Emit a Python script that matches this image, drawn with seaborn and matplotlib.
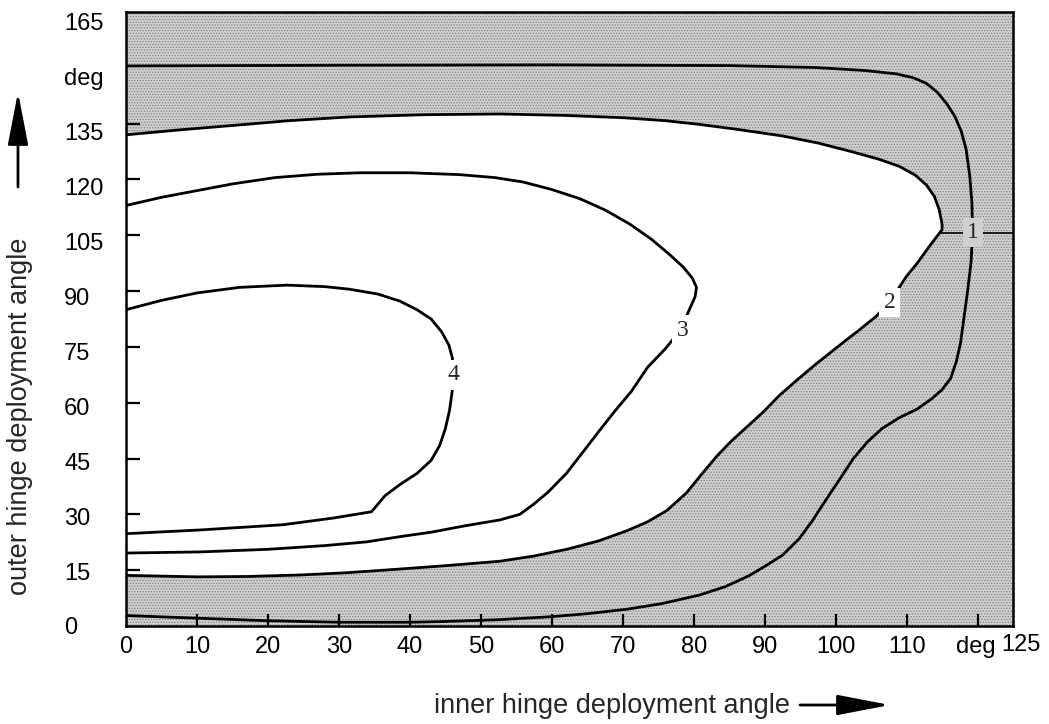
import numpy as np
import pandas as pd
import seaborn as sns
from matplotlib import pyplot as plt
from matplotlib import transforms
from matplotlib.patches import Rectangle

# contour lines (inner hinge angle, outer hinge angle), deg
c1_x = [0, 30, 60, 85, 97, 104, 108.5, 111, 112.8, 114.3, 115.6, 116.8, 117.7, 118.4, 118.9, 119.2, 119.3,
        119.1, 118.6, 118.1, 117.6, 117.0, 116.2, 115.0, 113.5, 111.5, 109.0, 106.5, 104.5, 102.5, 100.6,
        98.5, 96.8, 94.9, 92.5, 90.0, 87.9, 84.5, 80.8, 75.5, 70.6, 65, 60, 52.7, 45, 40, 30, 20, 10, 0]
c1_y = [150.5, 150.7, 150.8, 150.6, 150.1, 149.3, 148.4, 147.3, 145.8, 143.5, 140.5, 137, 133, 128, 121, 114, 106,
        98, 90, 83, 76, 71, 66.5, 63.5, 61, 58.3, 56, 53, 49.5, 45, 39.5,
        33.5, 28.5, 23.5, 19, 16, 13.6, 10.6, 8.3, 6.0, 4.5, 3.3, 2.5, 1.7, 1.2, 1.0, 1.0, 1.4, 2.1, 2.8]

c2_x = [0, 8, 15, 23, 31.5, 42, 52.7, 62, 70, 76, 80.8, 86, 92.5, 97.5, 102, 106, 109, 111.2, 112.8, 113.9,
        114.6, 115, 115, 113.2, 111.5, 110, 107.6, 105.7, 103.3, 101, 97.3, 94.5, 92.1, 89.8, 87.5, 85.2,
        83.2, 81, 79, 76.2, 73.5, 70.6, 66.5, 62.1, 57.5, 52.7, 45, 38.6, 31, 24.5, 17, 10, 0]
c2_y = [132, 133.4, 134.5, 135.8, 136.8, 137.4, 137.6, 137.2, 136.6, 135.8, 134.8, 133.5, 131.7, 129.8, 127.6,
        125.5, 123.5, 121.2, 118.5, 115.5, 111.9, 108, 106.5, 102, 97.5, 94, 87, 83.2, 79.5, 76.1, 70.5, 66,
        62, 57.5, 53.5, 49.5, 45.5, 40.5, 35.8, 31, 28, 25.6, 22.8, 20.6, 18.8, 17.4, 16.2, 15.3, 14.3, 13.7,
        13.3, 13.2, 13.6]

c3_x = [0, 5, 10, 15, 21, 27, 33, 40, 47, 52, 56, 60, 64, 67.5, 71, 74, 76.5, 78.5, 79.8, 80.4, 80.2, 79.5,
        78.7, 77.5, 76, 73.5, 71.2, 69, 66.8, 64.5, 62.1, 59.5, 57.5, 55.5, 52.7, 48, 43, 38.6, 33.9, 28,
        20, 10.4, 0]
c3_y = [113, 115.2, 117, 118.8, 120.5, 121.4, 121.8, 121.8, 121.3, 120.5, 119.3, 117.3, 114.8, 111.8, 108, 104,
        100, 96.5, 93.5, 91, 88.5, 85.5, 82, 78, 74.5, 69.5, 63, 58, 52.7, 47, 41.1, 36, 32.8, 30, 28.5, 27,
        25.2, 24, 22.6, 21.6, 20.6, 19.9, 19.6]

c4_x = [0, 5, 10, 16, 22.7, 28, 31.5, 35.5, 38.6, 41, 43, 44.5, 45.5, 46, 46.1, 46, 45.6, 45, 44.2, 43, 41,
        38.6, 36.5, 34.6, 29.2, 22.1, 10.4, 0]
c4_y = [85, 87.5, 89.5, 91, 91.6, 91.2, 90.5, 89.2, 87.3, 85, 82.5, 79, 75.5, 72, 67.5, 63.5, 58, 53, 48.5,
        44.5, 41, 38, 35, 30.7, 29, 27.2, 25.8, 24.8]

# horizontal marker through the tip of contour 2
guide_x = [114.9, 125]
guide_y = [105.7, 105.7]

label_text = ['1', '2', '3', '4']
label_x = [119.4, 107.6, 78.4, 46.1]
label_y = [105.7, 86.9, 79.5, 67.5]

x_ticks = [0, 10, 20, 30, 40, 50, 60, 70, 80, 90, 100, 110, 120, 125]
x_ticklabels = ['0', '10', '20', '30', '40', '50', '60', '70', '80', '90', '100', '110', 'deg', '125']
y_ticks = [0, 15, 30, 45, 60, 75, 90, 105, 120, 135, 150, 165]
y_ticklabels = ['0', '15', '30', '45', '60', '75', '90', '105', '120', '135', 'deg', '165']

stipple = '#d0d0d0'

sns.set_style('white')
plt.rcParams['font.family'] = ['Liberation Sans', 'DejaVu Sans']
plt.rcParams['hatch.linewidth'] = 0.6

df = pd.concat([
    pd.DataFrame({'inner': c1_x, 'outer': c1_y, 'level': 1}),
    pd.DataFrame({'inner': c2_x, 'outer': c2_y, 'level': 2}),
    pd.DataFrame({'inner': c3_x, 'outer': c3_y, 'level': 3}),
    pd.DataFrame({'inner': c4_x, 'outer': c4_y, 'level': 4}),
], ignore_index=True)

fig = plt.figure(figsize=(10.49, 7.24), dpi=100)
ax = fig.add_axes([0.1201, 0.1354, 0.8456, 0.848])
ax.set_axisbelow(False)

# stippled background, contour 2 interior left white
ax.add_patch(Rectangle((0, 0), 1, 1, transform=ax.transAxes, facecolor=stipple, edgecolor='#808080',
                       hatch='......', lw=0, zorder=0))
ax.fill(c2_x, c2_y, facecolor='white', edgecolor='none', zorder=1)

sns.lineplot(data=df, x='inner', y='outer', units='level', estimator=None, sort=False,
             color='black', lw=2.0, ax=ax, zorder=3)
ax.plot(guide_x, guide_y, color='black', lw=1.2, zorder=3)

for i, txt in enumerate(label_text):
    bg = stipple if txt == '1' else 'white'
    ax.text(label_x[i], label_y[i], txt, ha='center', va='center', fontsize=17,
            family=['Liberation Serif', 'DejaVu Serif'], zorder=5,
            bbox=dict(boxstyle='square,pad=0.18', facecolor=bg, edgecolor='none'))

ax.set_xlim(0, 125)
ax.set_ylim(0, 165)
ax.set_xlabel('')
ax.set_ylabel('')
ax.set_xticks(x_ticks)
ax.set_xticklabels(x_ticklabels, fontsize=17)
ax.set_yticks(y_ticks)
ax.set_yticklabels(y_ticklabels, fontsize=17)
ax.tick_params(axis='x', direction='in', length=8.6, width=1.6, pad=7, colors='black', bottom=True)
ax.tick_params(axis='y', direction='in', length=10, width=1.6, pad=44.6, colors='black', left=True)
for tick, v in zip(ax.xaxis.get_major_ticks(), x_ticks):
    if v in (0, 125):
        tick.tick1line.set_visible(False)
for tick, v in zip(ax.yaxis.get_major_ticks(), y_ticks):
    if v in (0, 150, 165):
        tick.tick1line.set_visible(False)
for lab, v in zip(ax.get_yticklabels(), y_ticks):
    lab.set_horizontalalignment('left')
    lab.set_transform(lab.get_transform() +
                      transforms.ScaledTranslation(0, -0.058 * v / 100, fig.dpi_scale_trans))
for lab, v in zip(ax.get_xticklabels(), x_ticks):
    if v == 125:
        lab.set_transform(lab.get_transform() + transforms.ScaledTranslation(0.08, 0.02, fig.dpi_scale_trans))
    if v == 120:
        lab.set_transform(lab.get_transform() + transforms.ScaledTranslation(-0.02, 0, fig.dpi_scale_trans))
for side in ['left', 'right', 'top', 'bottom']:
    ax.spines[side].set_color('black')
    ax.spines[side].set_linewidth(1.8)
    ax.spines[side].set_zorder(6)
ax.grid(False)

fig.text(0.019, 0.4254, 'outer hinge deployment angle', rotation=90, ha='center', va='center', fontsize=19.5)
fig.text(0.5834, 0.0249, 'inner hinge deployment angle', ha='center', va='center', fontsize=19.5)
ax.annotate('', xy=(18 / 1049, 1 - 92 / 724), xytext=(18 / 1049, 1 - 187 / 724), xycoords='figure fraction',
            arrowprops=dict(arrowstyle='-|>,head_length=1.3,head_width=0.25', mutation_scale=25,
                            lw=2, color='black', shrinkA=0, shrinkB=0))
ax.annotate('', xy=(890 / 1049, 1 - 705 / 724), xytext=(800 / 1049, 1 - 705 / 724), xycoords='figure fraction',
            arrowprops=dict(arrowstyle='-|>,head_length=1.3,head_width=0.25', mutation_scale=25,
                            lw=2, color='black', shrinkA=0, shrinkB=0))

fig.savefig('out.png', dpi=100)
